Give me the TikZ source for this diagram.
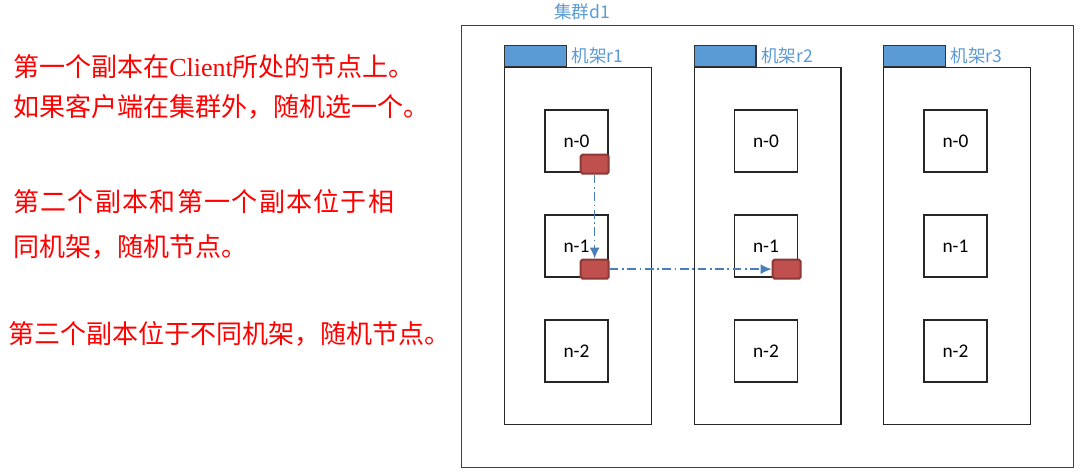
\documentclass[tikz,border=0pt]{standalone}
\usepackage{fontspec}
\setmainfont{Liberation Serif}
\newfontfamily\cjk{Noto Sans CJK SC}
\newfontfamily\lbl{Carlito}
\usetikzlibrary{arrows.meta, positioning}

\definecolor{tabblue}{HTML}{5B9BD5}
\definecolor{blockred}{HTML}{C0504D}
\definecolor{blockedge}{HTML}{8C3836}
\definecolor{flowblue}{HTML}{4A7EBB}

\tikzset{
  cluster/.style={draw=black!75, line width=0.8pt, anchor=north west, inner sep=0pt,
    minimum width=12.24cm, minimum height=8.84cm},
  rack/.style={draw=black!85, line width=0.8pt, anchor=north west, inner sep=0pt,
    minimum width=2.94cm, minimum height=7.14cm},
  racktab/.style={draw=black!80, fill=tabblue, line width=0.8pt, anchor=south west, inner sep=0pt,
    minimum width=1.24cm, minimum height=0.42cm},
  server/.style={draw=black!85, line width=0.8pt, inner sep=0pt,
    minimum width=1.26cm, minimum height=1.24cm, font=\lbl\fontsize{11}{13}\selectfont},
  block/.style={draw=blockedge, fill=blockred, line width=1.2pt, rounded corners=1pt,
    anchor=south east, inner sep=0pt, minimum width=0.56cm, minimum height=0.38cm},
  bluelabel/.style={text=tabblue, font=\cjk\fontsize{10}{12}\selectfont, inner sep=0pt},
  note/.style={text=red, font=\cjk\fontsize{14.8}{18}\selectfont, anchor=west, inner sep=0pt},
  replica/.style={-{Latex[length=2.2mm,width=2mm]}, flowblue, line width=0.8pt,
    dash pattern=on 5pt off 2pt on 1pt off 2pt}
}

\begin{document}
\begin{tikzpicture}[x=0.02cm, y=-0.02cm]
  \useasboundingbox (0,0) rectangle (1080,476);

  % notes on the left
  \node (note1) [note] at (13,67) {第一个副本在{\rmfamily Client}所处的节点上。};
  \node (note2) [note] at (13,107) {如果客户端在集群外，随机选一个。};
  \node (note3) [note] at (13,202) {\addfontfeature{LetterSpace=5}第二个副本和第一个副本位于相};
  \node (note4) [note] at (13,247) {同机架，随机节点。};
  \node (note5) [note] at (8,334) {第三个副本位于不同机架，随机节点。};

  % cluster
  \node (d1) [cluster] at (461,25) {};
  \node (d1lbl) [bluelabel] at (582,12) {集群d1};

  % racks and servers
  \foreach \r/\x in {1/504, 2/693.5, 3/883} {
    \node (r\r) [rack] at (\x,67) {};
    \node (t\r) [racktab] at (r\r.north west) {};
    \node (l\r) [bluelabel, right=0.08cm of t\r] {机架r\r};
    \foreach \n/\y in {0/141, 1/246, 2/351}
      \node (s\r\n) [server] at (\x+72.5,\y) {n-\n};
  }

  % blocks
  \node (b10) [block] at ([shift={(0.02cm,-0.04cm)}]s10.south east) {};
  \node (b11) [block] at ([shift={(0.02cm,-0.04cm)}]s11.south east) {};
  \node (b21) [block] at ([shift={(0.07cm,-0.04cm)}]s21.south east) {};

  \draw [replica] (b10) -- (b11);
  \draw [replica] (b11) -- (b21);
\end{tikzpicture}
\end{document}
